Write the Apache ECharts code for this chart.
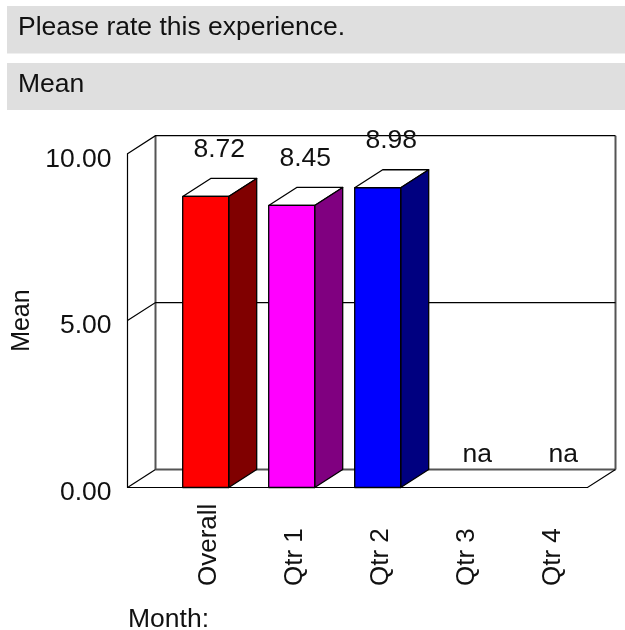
<!DOCTYPE html>
<html><head><meta charset="utf-8">
<style>html,body{margin:0;padding:0;background:#fff}#c{width:625px;height:630px}</style>
<script src="https://cdn.jsdelivr.net/npm/echarts@6/dist/echarts.min.js"></script>
</head><body><div id="c"></div>
<script>
const categories = ['Overall','Qtr 1','Qtr 2','Qtr 3','Qtr 4'];
const means = [8.72, 8.45, 8.98, null, null];
const meanLabels = ['8.72','8.45','8.98','na','na'];
const frontColors = ['#ff0000','#ff00ff','#0000ff','#000000','#000000'];
const sideColors = ['#800000','#800080','#000080','#000000','#000000'];
const yTicks = [0, 5, 10];
const headerLines = ['Please rate this experience.', 'Mean'];

const DX = 28, DY = -18, HALF = 23, FONT = 'Liberation Sans, Arial, Helvetica, sans-serif';
const chart = echarts.init(document.getElementById('c'), null, {renderer:'canvas'});

function frame(params, api){
  const step = api.size([1,0])[0];
  const x0 = api.coord([0,0])[0] - step*0.5 - 35.2;
  const x1 = x0 + 460;
  const y = v => api.coord([0,v])[1];
  const line = (pts, color, w) => ({type:'polyline', shape:{points:pts}, style:{fill:null, stroke:color, lineWidth:w}});
  const kids = [];
  kids.push(line([[x0+DX,y(0)+DY],[x1+DX,y(0)+DY]],'#555555',2));
  kids.push(line([[x0+DX,y(0)+DY],[x0+DX,y(10)+DY]],'#555555',2));
  kids.push(line([[x1+DX,y(0)+DY],[x1+DX,y(10)+DY]],'#555555',2));
  yTicks.forEach(t=>{
    if(t>0) kids.push(line([[x0,y(t)],[x0+DX,y(t)+DY],[x1+DX,y(t)+DY]],'#000',1.2));
  });
  kids.push(line([[x0,y(0)],[x0+DX,y(0)+DY]],'#000',1.2));
  kids.push(line([[x0,y(0)],[x1,y(0)],[x1+DX,y(0)+DY]],'#000',1.2));
  return {type:'group', children:kids};
}

function bar(params, api){
  const i = api.value(0), has = api.value(2) === 1, v = api.value(1);
  const [cx, y0] = api.coord([i,0]);
  const top = api.coord([i,v])[1];
  const kids = [];
  if(has){
    const l = cx-HALF, r = cx+HALF;
    const st = {stroke:'#000', lineWidth:1.3, lineJoin:'round'};
    kids.push({type:'polygon', shape:{points:[[l,top],[r,top],[r+DX,top+DY],[l+DX,top+DY]]}, style:{fill:'#fff',...st}});
    kids.push({type:'polygon', shape:{points:[[r,top],[r+DX,top+DY],[r+DX,y0+DY],[r,y0]]}, style:{fill:sideColors[i],...st}});
    kids.push({type:'rect', shape:{x:l,y:top,width:r-l,height:y0-top}, style:{fill:frontColors[i],...st}});
  }
  kids.push({type:'text', z2:50, style:{text:meanLabels[i], x:cx+13.5, y:has? top-47 : y0-32.5, align:'center', verticalAlign:'middle', fill:'#111', font:'26.5px '+FONT}});
  return {type:'group', children:kids};
}

chart.setOption({
  animation:false,
  backgroundColor:'#fff',
  grid:{left:162.7, width:430, top:153.7, height:333.8, containLabel:false, outerBoundsMode:'none'},
  xAxis:{type:'category', data:categories, axisLine:{show:false}, axisTick:{show:false},
    axisLabel:{rotate:90, interval:0, margin:98.5, align:'left', verticalAlign:'top', lineHeight:6, fontSize:26, fontFamily:FONT, color:'#111', hideOverlap:false}},
  yAxis:{type:'value', min:0, max:10, interval:5, offset:35.2, splitLine:{show:false},
    axisLine:{show:true, lineStyle:{color:'#000', width:1.2}}, axisTick:{show:false},
    axisLabel:{margin:16, fontSize:26.5, fontFamily:FONT, color:'#111', verticalAlign:'top', lineHeight:11, formatter:v=>v.toFixed(2)},
    name:'Mean', nameLocation:'middle', nameGap:88, nameTextStyle:{fontSize:25, fontFamily:FONT, color:'#111'}},
  graphic:[
    {type:'rect', z:-1, shape:{x:7,y:6,width:618,height:47.5}, style:{fill:'#dfdfdf'}},
    {type:'rect', z:-1, shape:{x:7,y:63,width:618,height:47}, style:{fill:'#dfdfdf'}},
    {type:'text', left:18, top:14, style:{text:headerLines[0], font:'26.5px '+FONT, fill:'#111'}},
    {type:'text', left:18, top:71, style:{text:headerLines[1], font:'26.5px '+FONT, fill:'#111'}},
    {type:'text', left:128, top:606.5, style:{text:'Month:', font:'26.5px '+FONT, fill:'#111'}}
  ],
  series:[
    {type:'custom', z:1, coordinateSystem:'cartesian2d', clip:false, renderItem:frame, data:[[0,0]], silent:true},
    {type:'custom', z:2, coordinateSystem:'cartesian2d', clip:false, renderItem:bar, silent:true,
     encode:{x:0,y:1},
     data:means.map((m,i)=>[i, m===null?0:m, m===null?0:1])}
  ]
});
</script></body></html>
